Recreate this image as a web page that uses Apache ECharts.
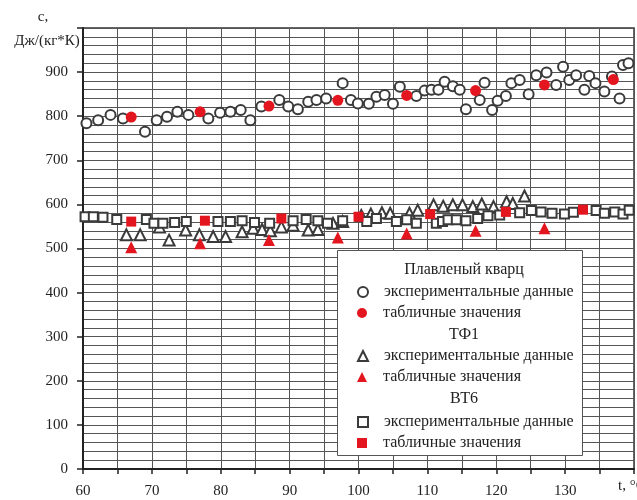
<!DOCTYPE html>
<html>
<head>
<meta charset="utf-8">
<script src="https://cdn.jsdelivr.net/npm/echarts@6/dist/echarts.min.js"></script>
<style>html,body{margin:0;padding:0;background:#fff;}#c{width:637px;height:500px;}</style>
</head>
<body>
<div id="c"></div>
<script>
// ---- data ----
const xTicks = [60, 70, 80, 90, 100, 110, 120, 130];
const yTicks = [0, 100, 200, 300, 400, 500, 600, 700, 800, 900];

const quartzExpX = [60.5,62.2,64.0,65.8,69.0,70.7,72.2,73.7,75.3,78.2,79.9,81.4,82.9,84.3,85.9,88.5,89.8,91.2,92.7,93.9,95.3,97.7,98.9,99.9,101.5,102.6,103.8,105.0,106.0,108.4,109.6,110.6,111.6,112.5,113.7,114.7,115.6,117.6,118.3,119.4,120.2,121.4,122.2,123.4,124.7,125.8,127.3,128.7,129.7,130.6,131.6,132.8,133.5,134.4,135.7,136.8,137.9,138.4,139.2];
const quartzExpY = [784,791,803,795,765,791,799,810,803,795,808,810,814,791,822,837,822,816,833,837,840,875,837,829,828,844,848,828,867,846,858,860,860,878,868,860,816,837,876,814,835,846,875,882,850,893,899,871,912,882,893,860,891,875,856,890,840,916,920];
const quartzTabX = [67,77,87,97,107,117,127,137];
const quartzTabY = [798,810,823,836,847,858,871,883];

const tf1ExpX = [66.3,68.3,71.1,72.5,74.9,76.9,78.9,80.7,83.1,84.7,86.0,87.2,88.8,90.5,92.7,94.1,96.3,97.7,100.4,101.8,103.4,104.6,107.4,108.6,110.9,112.3,113.7,115.1,116.6,117.9,119.6,121.5,122.4,124.1];
const tf1ExpY = [531,531,549,519,542,531,527,527,538,546,543,540,549,553,542,543,557,561,575,578,581,580,580,587,599,596,599,599,595,601,595,606,602,619];
const tf1TabX = [67,77,87,97,107,117,127];
const tf1TabY = [503,512,519,525,534,540,546];

const vt6ExpX = [60.3,61.5,62.9,64.9,69.2,70.3,71.6,73.3,75.0,79.6,81.4,83.1,84.9,87.1,90.5,92.4,94.1,95.5,97.7,101.2,102.6,105.5,107.0,108.4,111.3,112.2,113.0,114.2,115.6,117.3,118.8,120.5,123.4,125.1,126.5,128.1,129.9,131.2,134.5,135.7,137.2,138.4,139.3];
const vt6ExpY = [572,572,571,566,566,557,557,559,561,561,561,563,559,557,563,566,563,557,563,561,568,561,565,557,557,561,565,565,563,568,574,576,581,586,583,580,578,582,586,580,583,578,587];
const vt6TabX = [67,77.7,88.8,100,110.4,121.4,132.6];
const vt6TabY = [561,563,568,572,578,583,588];

const groupTitles = ['Плавленый кварц', 'ТФ1', 'ВТ6'];
const itemLabels = ['экспериментальные данные', 'табличные значения'];
const yName = ['c,', 'Дж/(кг*К)'];
const xName = 't, °C';

// ---- chart ----
const FONT = '"Liberation Serif", "DejaVu Serif", serif';
const RED = '#e3161f';
const GRAY = '#3a3a3a';
const zip = (xs, ys) => xs.map((x, i) => [x, ys[i]]);

const seriesDefs = [
  { name: groupTitles[0] + ' — ' + itemLabels[0], data: zip(quartzExpX, quartzExpY), symbol: 'emptyCircle', size: 10, color: GRAY },
  { name: groupTitles[0] + ' — ' + itemLabels[1], data: zip(quartzTabX, quartzTabY), symbol: 'circle', size: 11, color: RED },
  { name: groupTitles[1] + ' — ' + itemLabels[0], data: zip(tf1ExpX, tf1ExpY), symbol: 'emptyTriangle', size: 11, color: GRAY },
  { name: groupTitles[1] + ' — ' + itemLabels[1], data: zip(tf1TabX, tf1TabY), symbol: 'triangle', size: 12, color: RED },
  { name: groupTitles[2] + ' — ' + itemLabels[0], data: zip(vt6ExpX, vt6ExpY), symbol: 'emptyRect', size: 9, color: GRAY },
  { name: groupTitles[2] + ' — ' + itemLabels[1], data: zip(vt6TabX, vt6TabY), symbol: 'rect', size: 10, color: RED }
];

const rowY = [292, 313, 356, 377, 422, 443];
const headY = [270, 335, 399];

const legends = seriesDefs.map((s, i) => ({
  data: [s.name],
  orient: 'vertical',
  left: 357,
  top: rowY[i] - 8,
  padding: 0,
  itemWidth: 10,
  itemHeight: 10,
  z: 20,
  selectedMode: false,
  formatter: () => itemLabels[i % 2],
  textStyle: { fontFamily: FONT, fontSize: 16, color: '#222', lineHeight: 16, padding: [0, 0, 0, 11] }
}));

const graphics = [
  { type: 'rect', left: 337, top: 250, shape: { width: 245, height: 205 }, style: { fill: '#fff', stroke: '#555', lineWidth: 1 }, z: 10 },
  ...groupTitles.map((t, i) => ({
    type: 'text', x: 464, y: headY[i], z: 11,
    style: { text: t, fontFamily: FONT, fontSize: 16, fill: '#222', textAlign: 'center', textVerticalAlign: 'middle' }
  })),
  { type: 'text', x: 43, y: 17, z: 11, style: { text: yName[0], fontFamily: FONT, fontSize: 15, fill: '#222', textAlign: 'center', textVerticalAlign: 'middle' } },
  { type: 'text', x: 47, y: 41, z: 11, style: { text: yName[1], fontFamily: FONT, fontSize: 15, fill: '#222', textAlign: 'center', textVerticalAlign: 'middle' } },
  { type: 'text', x: 618, y: 486, z: 11, style: { text: xName, fontFamily: FONT, fontSize: 15, fill: '#222', textAlign: 'left', textVerticalAlign: 'middle' } }
];

const chart = echarts.init(document.getElementById('c'), null, { renderer: 'canvas' });
chart.setOption({
  animation: false,
  backgroundColor: '#fff',
  grid: { left: 83, right: 3, top: 28, bottom: 31, show: true, borderColor: '#333', borderWidth: 1.5, backgroundColor: 'transparent' },
  xAxis: {
    type: 'value', min: 60, max: 140, interval: 10,
    axisLine: { show: true, lineStyle: { color: '#222', width: 2 } },
    axisTick: { show: true, length: 5, lineStyle: { color: '#222', width: 1.5 } },
    minorTick: { show: true, splitNumber: 2, length: 5, lineStyle: { color: '#222', width: 1.5 } },
    splitLine: { show: true, lineStyle: { color: '#555', width: 1 } },
    minorSplitLine: { show: true, lineStyle: { color: '#555', width: 1 } },
    axisLabel: {
      margin: 15, fontFamily: FONT, fontSize: 15, color: '#222',
      formatter: v => (xTicks.indexOf(v) >= 0 ? String(v) : '')
    }
  },
  yAxis: {
    type: 'value', min: 0, max: 1000, interval: 100,
    axisLine: { show: true, lineStyle: { color: '#222', width: 2 } },
    axisTick: { show: true, length: 6, lineStyle: { color: '#222', width: 1.5 } },
    minorTick: { show: false },
    splitLine: { show: true, lineStyle: { color: '#555', width: 1 } },
    minorSplitLine: { show: true, lineStyle: { color: '#555', width: 1 } },
    axisLabel: {
      margin: 15, fontFamily: FONT, fontSize: 15, color: '#222',
      formatter: v => (yTicks.indexOf(v) >= 0 ? String(v) : '')
    }
  },
  legend: legends,
  graphic: graphics,
  series: seriesDefs.map(s => ({
    type: 'scatter',
    name: s.name,
    data: s.data,
    symbol: s.symbol,
    symbolSize: s.size,
    itemStyle: { color: s.color, borderWidth: s.symbol.startsWith('empty') ? 1.2 : 0, opacity: 1 },
    emphasis: { disabled: true },
    z: s.color === RED ? 4 : 3
  }))
});
</script>
</body>
</html>
